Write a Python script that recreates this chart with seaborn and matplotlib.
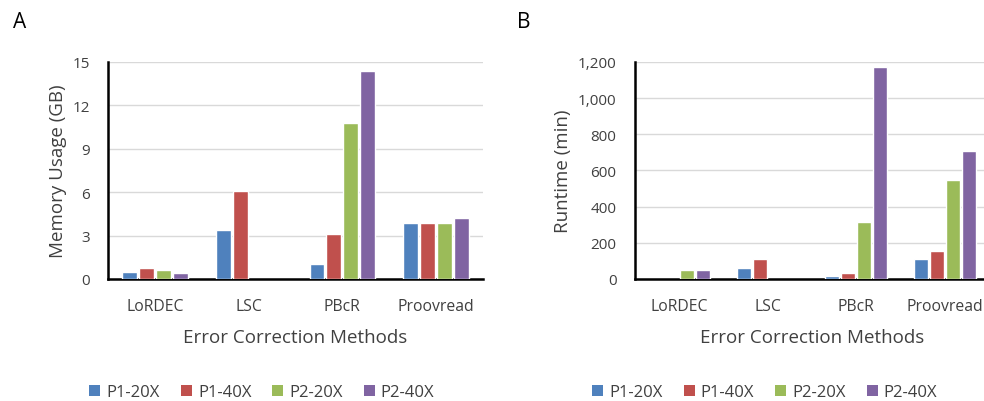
import numpy as np
import pandas as pd
import matplotlib
matplotlib.use("Agg")
import matplotlib.pyplot as plt
import seaborn as sns
from matplotlib.patches import Patch

methods = ["LoRDEC", "LSC", "PBcR", "Proovread"]
series = ["P1-20X", "P1-40X", "P2-20X", "P2-40X"]
colors = ["#4F81BD", "#C0504D", "#9BBB59", "#8064A2"]

mem_p1_20 = [0.51, 3.41, 1.06, 3.87]
mem_p1_40 = [0.74, 6.08, 3.09, 3.87]
mem_p2_20 = [0.62, np.nan, 10.76, 3.87]
mem_p2_40 = [0.39, np.nan, 14.35, 4.19]

rt_p1_20 = [np.nan, 59, 15, 112]
rt_p1_40 = [np.nan, 112, 31, 156]
rt_p2_20 = [50, np.nan, 317, 548]
rt_p2_40 = [50, np.nan, 1172, 710]

mem_ticks = [0, 3, 6, 9, 12, 15]
rt_ticks = [0, 200, 400, 600, 800, 1000, 1200]
rt_tick_labels = ["0", "200", "400", "600", "800", "1,000", "1,200"]


def long_df(cols):
    rows = []
    for s, vals in zip(series, cols):
        for m, v in zip(methods, vals):
            rows.append({"method": m, "series": s, "value": v})
    return pd.DataFrame(rows)


mem_df = long_df([mem_p1_20, mem_p1_40, mem_p2_20, mem_p2_40])
rt_df = long_df([rt_p1_20, rt_p1_40, rt_p2_20, rt_p2_40])

sns.set_theme(style="white")
plt.rcParams["font.family"] = ["Open Sans", "DejaVu Sans"]
text_col = "#404040"

fig = plt.figure(figsize=(9.84, 4.02), dpi=100)
axA = fig.add_axes([0.1098, 0.3035, 0.381, 0.54])
axB = fig.add_axes([0.645, 0.3035, 0.36, 0.54])

for ax, df, ticks, labels, ylabel in [
    (axA, mem_df, mem_ticks, [str(t) for t in mem_ticks], "Memory Usage (GB)"),
    (axB, rt_df, rt_ticks, rt_tick_labels, "Runtime (min)"),
]:
    sns.barplot(data=df, x="method", y="value", hue="series", hue_order=series,
                order=methods, palette=colors, width=0.72, gap=0.12,
                saturation=1, legend=False, ax=ax, zorder=3)
    ax.set_ylim(0, ticks[-1])
    ax.set_yticks(ticks)
    ax.set_yticklabels(labels, fontsize=11, color=text_col)
    ax.tick_params(axis="x", labelsize=11.3, colors=text_col, length=0, pad=14)
    ax.tick_params(axis="y", length=0, pad=13)
    ax.set_xlim(-0.5, 3.5)
    ax.yaxis.grid(True, color="#D9D9D9", linewidth=1, zorder=0)
    ax.set_axisbelow(True)
    for sp in ["top", "right"]:
        ax.spines[sp].set_visible(False)
    for sp in ["left", "bottom"]:
        ax.spines[sp].set_color("black")
        ax.spines[sp].set_linewidth(1.8)
    ax.set_ylabel(ylabel, fontsize=13.5, color=text_col, labelpad=4)
    ax.set_xlabel("Error Correction Methods", fontsize=13.5, color=text_col, labelpad=10)

fig.text(13 / 984, 1 - 23 / 402, "A", fontsize=15, color="black", va="center")
fig.text(517 / 984, 1 - 23 / 402, "B", fontsize=15, color="black", va="center")

handles = [Patch(facecolor=c, edgecolor="none", label=s) for c, s in zip(colors, series)]
for cx in [262 / 984, 765 / 984]:
    fig.legend(handles=handles, loc="center", bbox_to_anchor=(cx, 1 - 393 / 402),
               ncol=4, frameon=False, fontsize=12, handlelength=0.66, handleheight=0.66,
               handletextpad=0.36, columnspacing=1.26, labelcolor=text_col)

fig.savefig("out.png", dpi=100)
